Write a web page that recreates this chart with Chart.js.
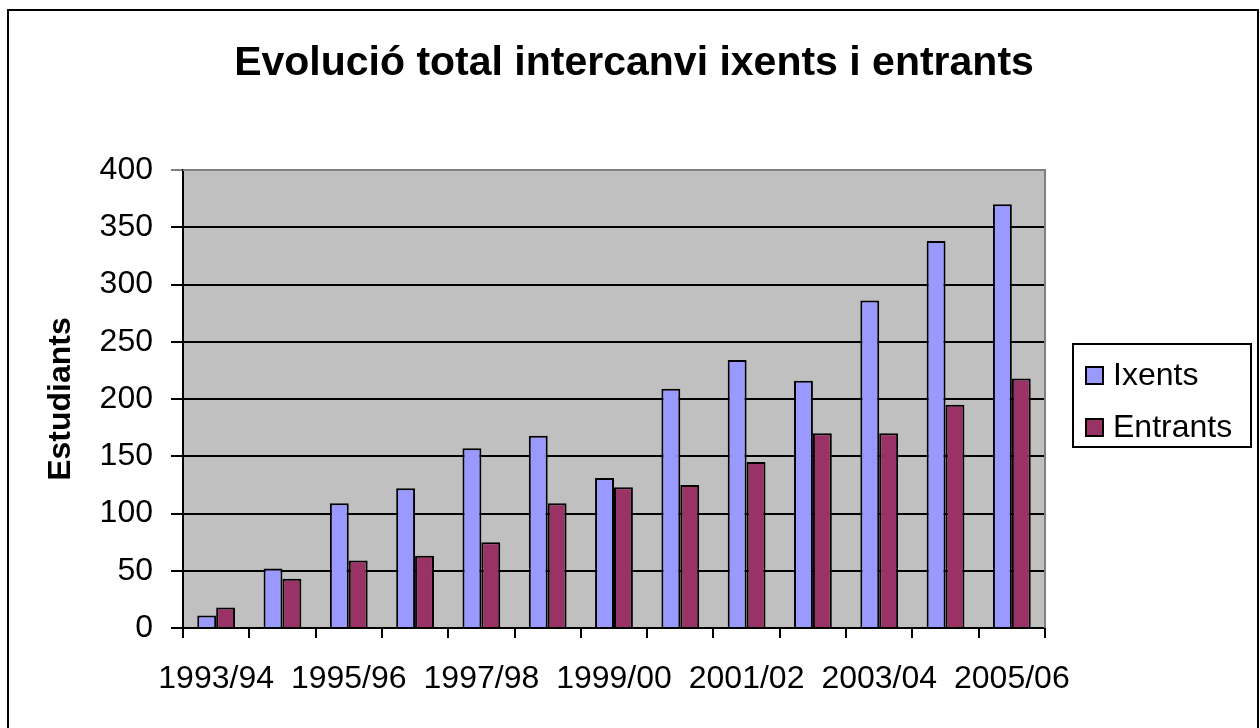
<!DOCTYPE html>
<html>
<head>
<meta charset="utf-8">
<script src="https://cdn.jsdelivr.net/npm/chart.js@4/dist/chart.umd.min.js"></script>
<style>
html,body{margin:0;padding:0;background:#fff;}
canvas{display:block;}
</style>
</head>
<body>
<canvas id="c" width="1260" height="728"></canvas>
<script>
const categories = ["1993/94","1994/95","1995/96","1996/97","1997/98","1998/99","1999/00","2000/01","2001/02","2002/03","2003/04","2004/05","2005/06"];
const ixents   = [11, 52, 109, 122, 157, 168, 131, 209, 234, 216, 286, 338, 370];
const entrants = [18, 43, 59, 63, 75, 109, 123, 125, 145, 170, 170, 195, 218];
const seriesNames = ["Ixents", "Entrants"];
const chartTitle = "Evolució total intercanvi ixents i entrants";
const yAxisTitle = "Estudiants";

const SANS = '"Liberation Sans", Arial, sans-serif';
const TICK_SIZE = 32;

const decor = {
  id: 'decor',
  beforeDraw(chart) {
    const {ctx, chartArea: a} = chart;
    ctx.save();
    ctx.fillStyle = '#fff';
    ctx.fillRect(0, 0, chart.width, chart.height);
    ctx.strokeStyle = '#000';
    ctx.lineWidth = 2;
    ctx.strokeRect(8, 10, 1250, 740);
    ctx.fillStyle = '#c0c0c0';
    ctx.fillRect(a.left, a.top, a.right - a.left, a.bottom - a.top);
    ctx.restore();
  },
  afterDraw(chart) {
    const {ctx, chartArea: a} = chart;
    ctx.save();
    ctx.strokeStyle = '#808080';
    ctx.lineWidth = 2;
    ctx.beginPath();
    ctx.moveTo(a.left, a.top);
    ctx.lineTo(a.right, a.top);
    ctx.lineTo(a.right, a.bottom);
    ctx.stroke();
    ctx.fillStyle = '#000';
    ctx.font = 'bold 41px ' + SANS;
    ctx.textAlign = 'center';
    ctx.textBaseline = 'middle';
    ctx.fillText(chartTitle, 634, 64);
    const lx = 1073, ly = 344, lw = 178, lh = 103;
    ctx.strokeStyle = '#000';
    ctx.lineWidth = 2;
    ctx.strokeRect(lx, ly, lw, lh);
    ctx.font = TICK_SIZE + 'px ' + SANS;
    ctx.textAlign = 'left';
    chart.data.datasets.forEach((ds, i) => {
      const cy = 375 + i * 52;
      ctx.fillStyle = ds.backgroundColor;
      ctx.fillRect(1086, cy - 8, 17, 17);
      ctx.lineWidth = 2;
      ctx.strokeStyle = '#000';
      ctx.strokeRect(1086, cy - 8, 17, 17);
      ctx.fillStyle = '#000';
      ctx.fillText(ds.label, 1113, cy + 1);
    });
    ctx.restore();
  }
};

new Chart(document.getElementById('c'), {
  type: 'bar',
  data: {
    labels: categories,
    datasets: [
      { label: seriesNames[0], data: ixents, backgroundColor: '#9999ff', borderColor: '#000', borderWidth: 2, borderSkipped: 'bottom' },
      { label: seriesNames[1], data: entrants, backgroundColor: '#993366', borderColor: '#000', borderWidth: 2, borderSkipped: 'bottom' }
    ]
  },
  options: {
    responsive: false,
    animation: false,
    devicePixelRatio: 1,
    layout: { padding: { top: 170, right: 215, left: 0, bottom: 0 } },
    datasets: { bar: { barPercentage: 1.0, categoryPercentage: 0.57 } },
    plugins: { legend: { display: false }, title: { display: false }, tooltip: { enabled: false } },
    scales: {
      x: {
        afterFit(s) { s.height = 100; },
        grid: { offset: true, drawOnChartArea: false, drawTicks: true, tickLength: 10, color: '#000', lineWidth: 2 },
        border: { color: '#000', width: 2 },
        ticks: {
          autoSkip: false, maxRotation: 0, minRotation: 0, padding: 22, color: '#000',
          font: { family: SANS, size: TICK_SIZE },
          callback(v, i) { return i % 2 === 0 ? categories[i] : ''; }
        }
      },
      y: {
        min: 0, max: 400,
        afterFit(s) { s.width = 183; },
        grid: {
          color: (c) => (c.tick && c.tick.value === 400 ? '#808080' : '#000'),
          lineWidth: 2, tickLength: 12, drawTicks: true
        },
        border: { color: '#000', width: 2 },
        ticks: { stepSize: 50, padding: 18, color: '#000', font: { family: SANS, size: TICK_SIZE } },
        title: { display: true, text: yAxisTitle, color: '#000', font: { family: SANS, size: 32, weight: 'bold' }, padding: { top: 42, bottom: 0 } }
      }
    }
  },
  plugins: [decor]
});
</script>
</body>
</html>
